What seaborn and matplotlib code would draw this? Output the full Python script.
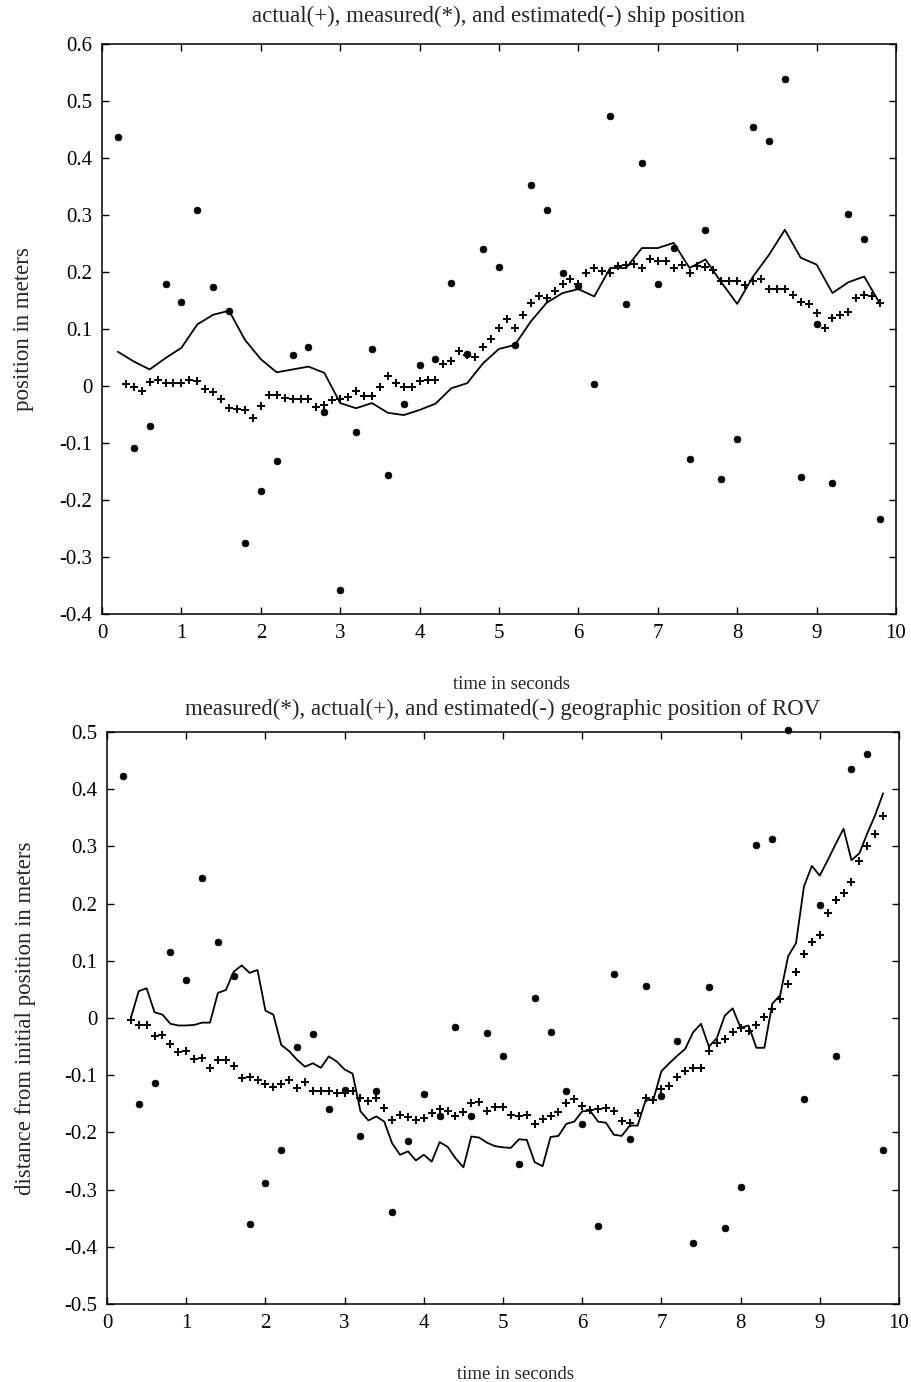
import numpy as np
import pandas as pd
import matplotlib
matplotlib.use("Agg")
import matplotlib.pyplot as plt
import seaborn as sns

# ---- ship position (upper panel) ----
ship_meas_t = [round(0.2 * k, 1) for k in range(1, 50)]
ship_measured = [0.436, -0.109, -0.071, 0.179, 0.147, 0.309, 0.174, 0.132, -0.275, -0.185,
                 -0.132, 0.054, 0.069, -0.045, -0.358, -0.081, 0.065, -0.157, -0.032, 0.036,
                 0.047, 0.181, 0.056, 0.240, 0.208, 0.072, 0.352, 0.308, 0.199, 0.175,
                 0.004, 0.473, 0.144, 0.392, 0.179, 0.242, -0.128, 0.273, -0.164, -0.093,
                 0.454, 0.430, 0.539, -0.159, 0.108, -0.171, 0.302, 0.257, -0.233]
ship_estimated = [0.060, 0.043, 0.029, 0.049, 0.067, 0.108, 0.125, 0.132, 0.081, 0.047,
                  0.024, 0.029, 0.034, 0.023, -0.030, -0.039, -0.030, -0.047, -0.051, -0.042,
                  -0.031, -0.004, 0.005, 0.040, 0.065, 0.072, 0.113, 0.146, 0.163, 0.170,
                  0.157, 0.207, 0.207, 0.242, 0.242, 0.251, 0.207, 0.222, 0.182, 0.144,
                  0.192, 0.230, 0.274, 0.225, 0.213, 0.163, 0.182, 0.192, 0.144]
ship_act_t = [round(0.1 * k, 1) for k in range(3, 99)]
ship_actual = [0.004, -0.002, -0.008, 0.007, 0.011, 0.005, 0.006, 0.005, 0.010, 0.009,
               -0.005, -0.010, -0.022, -0.039, -0.040, -0.042, -0.056, -0.035, -0.016, -0.016,
               -0.021, -0.022, -0.022, -0.022, -0.037, -0.034, -0.025, -0.023, -0.019, -0.008,
               -0.017, -0.017, -0.002, 0.018, 0.005, -0.001, -0.001, 0.008, 0.011, 0.011,
               0.038, 0.043, 0.062, 0.055, 0.051, 0.069, 0.083, 0.102, 0.118, 0.102,
               0.125, 0.145, 0.158, 0.154, 0.166, 0.179, 0.188, 0.179, 0.199, 0.207,
               0.201, 0.198, 0.210, 0.212, 0.214, 0.207, 0.223, 0.219, 0.219, 0.207,
               0.213, 0.198, 0.210, 0.208, 0.203, 0.185, 0.185, 0.185, 0.178, 0.185,
               0.188, 0.170, 0.170, 0.170, 0.160, 0.148, 0.143, 0.128, 0.102, 0.119,
               0.125, 0.129, 0.155, 0.160, 0.157, 0.146]

# ---- ROV position (lower panel) ----
rov_meas_t = [round(0.2 * k, 1) for k in range(1, 50)]
rov_measured = [0.424, -0.150, -0.114, 0.115, 0.066, 0.244, 0.133, 0.074, -0.360, -0.288,
                -0.231, -0.051, -0.028, -0.159, -0.125, -0.207, -0.127, -0.339, -0.215, -0.133,
                -0.172, -0.015, -0.171, -0.026, -0.067, -0.256, 0.035, -0.025, -0.128, -0.185,
                -0.363, 0.077, -0.211, 0.056, -0.136, -0.040, -0.393, 0.054, -0.367, -0.295,
                0.302, 0.313, 0.503, -0.142, 0.197, -0.067, 0.436, 0.462, -0.230]
rov_t = [round(0.1 * k, 1) for k in range(3, 99)]
rov_actual = [-0.003, -0.012, -0.013, -0.032, -0.029, -0.045, -0.059, -0.057, -0.072, -0.070,
              -0.087, -0.073, -0.074, -0.083, -0.104, -0.103, -0.108, -0.115, -0.120, -0.116,
              -0.109, -0.122, -0.111, -0.127, -0.127, -0.128, -0.131, -0.131, -0.128, -0.140,
              -0.145, -0.140, -0.157, -0.178, -0.169, -0.173, -0.178, -0.175, -0.166, -0.159,
              -0.163, -0.171, -0.165, -0.148, -0.146, -0.163, -0.155, -0.155, -0.169, -0.171,
              -0.169, -0.185, -0.177, -0.171, -0.165, -0.148, -0.141, -0.153, -0.161, -0.159,
              -0.157, -0.163, -0.180, -0.183, -0.166, -0.140, -0.143, -0.124, -0.118, -0.103,
              -0.093, -0.087, -0.087, -0.058, -0.043, -0.037, -0.025, -0.017, -0.023, -0.012,
              0.002, 0.015, 0.033, 0.060, 0.080, 0.112, 0.133, 0.146, 0.184, 0.207,
              0.219, 0.237, 0.274, 0.300, 0.322, 0.354]
rov_estimated = [0.000, 0.047, 0.052, 0.010, 0.006, -0.010, -0.013, -0.013, -0.012, -0.008,
                 -0.008, 0.044, 0.049, 0.081, 0.092, 0.079, 0.084, 0.013, 0.006, -0.047,
                 -0.058, -0.073, -0.085, -0.079, -0.087, -0.067, -0.076, -0.090, -0.097, -0.163,
                 -0.179, -0.172, -0.181, -0.219, -0.239, -0.233, -0.249, -0.239, -0.251, -0.217,
                 -0.225, -0.245, -0.261, -0.207, -0.209, -0.218, -0.224, -0.226, -0.227, -0.212,
                 -0.213, -0.252, -0.259, -0.208, -0.206, -0.185, -0.181, -0.163, -0.162, -0.181,
                 -0.183, -0.204, -0.206, -0.188, -0.188, -0.144, -0.142, -0.093, -0.079, -0.066,
                 -0.054, -0.025, -0.010, -0.050, -0.035, 0.004, 0.017, -0.017, -0.013, -0.052,
                 -0.052, 0.025, 0.040, 0.108, 0.131, 0.230, 0.266, 0.249, 0.276, 0.304,
                 0.331, 0.276, 0.288, 0.323, 0.355, 0.393]

x_ticks = [0, 1, 2, 3, 4, 5, 6, 7, 8, 9, 10]
ship_yticks = [0.6, 0.5, 0.4, 0.3, 0.2, 0.1, 0, -0.1, -0.2, -0.3, -0.4]
ship_ylabels = ["0.6", "0.5", "0.4", "0.3", "0.2", "0.1", "0", "-0.1", "-0.2", "-0.3", "-0.4"]
rov_yticks = [0.5, 0.4, 0.3, 0.2, 0.1, 0, -0.1, -0.2, -0.3, -0.4, -0.5]
rov_ylabels = ["0.5", "0.4", "0.3", "0.2", "0.1", "0", "-0.1", "-0.2", "-0.3", "-0.4", "-0.5"]

sns.set_style("ticks")
plt.rcParams["font.family"] = ["Liberation Serif", "DejaVu Serif"]
plt.rcParams["axes.unicode_minus"] = False
plt.rcParams["xtick.direction"] = "in"
plt.rcParams["ytick.direction"] = "in"

fig = plt.figure(figsize=(9.11, 13.82), dpi=100)
ax1 = fig.add_axes([0.112, 0.5557, 0.8715, 0.4125])
ax2 = fig.add_axes([0.1175, 0.0564, 0.8693, 0.4139])


def draw_panel(ax, meas_t, meas, act_t, act, est_t, est, ylim, yticks, ylabels,
               title, ylabel, title_pad, ylabel_pad):
    sns.lineplot(x=est_t, y=est, ax=ax, color="black", linewidth=1.3, estimator=None)
    sns.scatterplot(x=act_t, y=act, ax=ax, marker="+", s=38, color="black",
                    linewidth=1.4)
    sns.scatterplot(x=meas_t, y=meas, ax=ax, marker="o", s=24, color="black",
                    edgecolor="black", linewidth=0.5, clip_on=False)
    ax.set_xlim(0, 10)
    ax.set_ylim(*ylim)
    ax.set_xticks(x_ticks)
    ax.set_xticklabels([str(v) for v in x_ticks])
    ax.set_yticks(yticks)
    ax.set_yticklabels(ylabels)
    ax.tick_params(axis="both", which="both", direction="in", length=5, width=1,
                   top=True, right=True, labelsize=15, pad=7, colors="black")
    for sp in ax.spines.values():
        sp.set_visible(True)
        sp.set_color("black")
        sp.set_linewidth(1.1)
    ax.set_title(title, fontsize=16.5, pad=title_pad)
    ax.set_xlabel("time in seconds", fontsize=13.5, labelpad=24, x=0.516)
    ax.set_ylabel(ylabel, fontsize=16.5, labelpad=ylabel_pad)


draw_panel(ax1, ship_meas_t, ship_measured, ship_act_t, ship_actual,
           ship_meas_t, ship_estimated, (-0.4, 0.6), ship_yticks, ship_ylabels,
           "actual(+), measured(*), and estimated(-) ship position",
           "position in meters", 15.5, 18.5)
draw_panel(ax2, rov_meas_t, rov_measured, rov_t, rov_actual,
           rov_t, rov_estimated, (-0.5, 0.5), rov_yticks, rov_ylabels,
           "measured(*), actual(+), and estimated(-) geographic position of ROV",
           "distance from initial position in meters", 12.5, 20.5)

fig.savefig("out.png", dpi=100, facecolor="white")
